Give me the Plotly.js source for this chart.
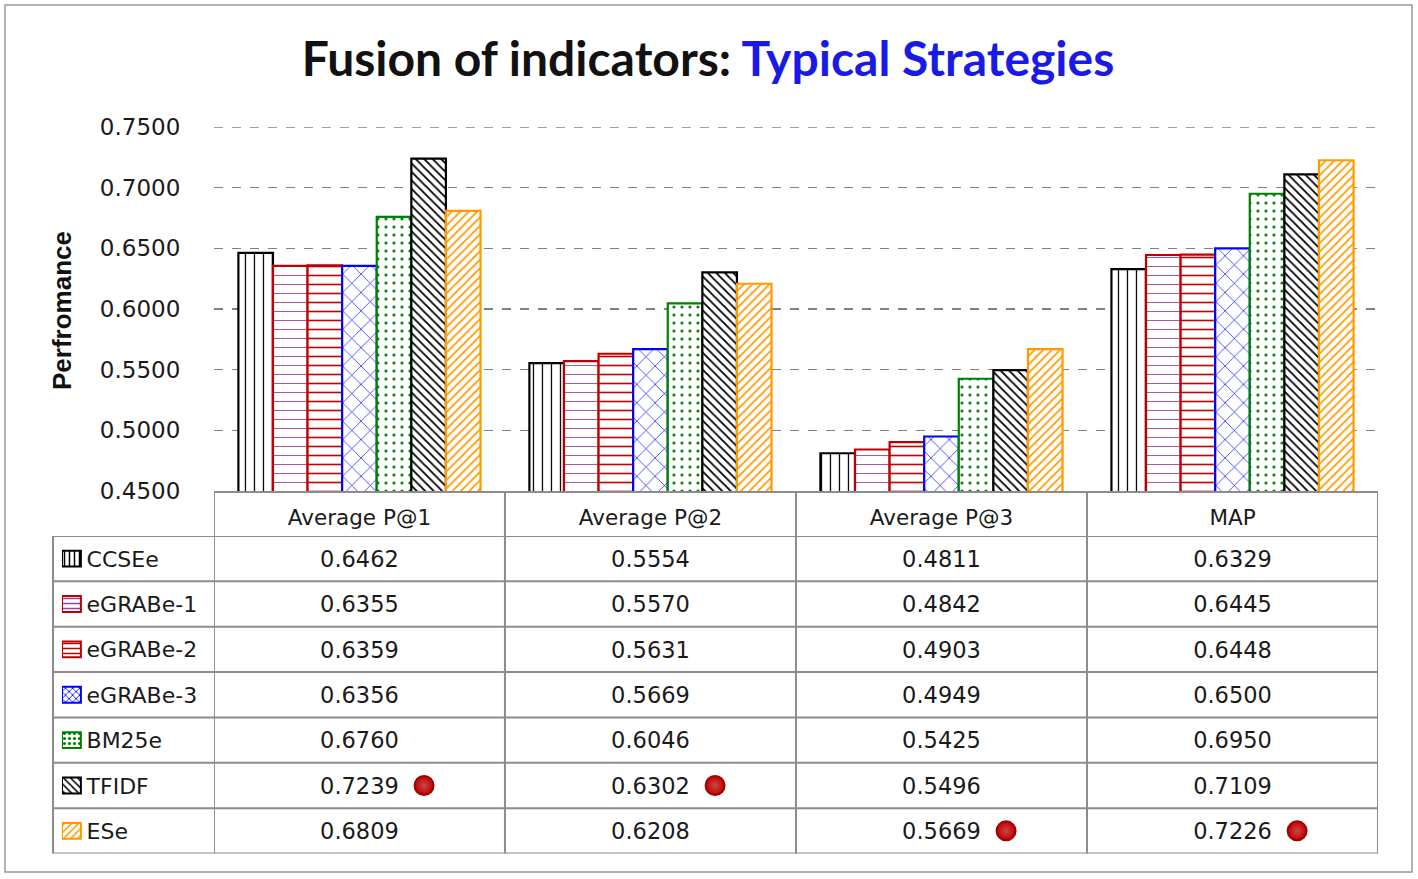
<!DOCTYPE html>
<html>
<head>
<meta charset="utf-8">
<script src="https://cdn.plot.ly/plotly-3.0.1.min.js"></script>
<style>
  body { margin: 0; background: #fff; }
  #chart { width: 1418px; height: 879px; }
</style>
</head>
<body>
<div id="chart"></div>
<script>
// data
let categories = ["Average P@1", "Average P@2", "Average P@3", "MAP"];
let seriesNames = ["CCSEe", "eGRABe-1", "eGRABe-2", "eGRABe-3", "BM25e", "TFIDF", "ESe"];
let ccsee = [0.6462, 0.5554, 0.4811, 0.6329];
let egrabe1 = [0.6355, 0.5570, 0.4842, 0.6445];
let egrabe2 = [0.6359, 0.5631, 0.4903, 0.6448];
let egrabe3 = [0.6356, 0.5669, 0.4949, 0.6500];
let bm25e = [0.6760, 0.6046, 0.5425, 0.6950];
let tfidf = [0.7239, 0.6302, 0.5496, 0.7109];
let ese = [0.6809, 0.6208, 0.5669, 0.7226];
let yTicks = [0.45, 0.50, 0.55, 0.60, 0.65, 0.70, 0.75];

let allSeries = [ccsee, egrabe1, egrabe2, egrabe3, bm25e, tfidf, ese];

// look of each series (border colour, pattern)
let lineColors = ["#000000", "#c00000", "#c00000", "#0000ff", "#008000", "#000000", "#ff9900"];
let patColors = ["#000000", "#a040a0", "#c00000", "#0000ff", "#008000", "#000000", "#ff9900"];
let patShapes = ["|", "-", "-", "x", ".", "\\", "/"];
let patSizes = [9, 9, 9, 13, 8, 6, 6];
let patSolid = [0.14, 0.1, 0.18, 0.1, 0.12, 0.3, 0.3];

let catIdx = categories.map((c, i) => i);
let font = "DejaVu Sans, Verdana, sans-serif";

let data = [];

// bars
allSeries.forEach((vals, s) => {
    data.push({
        type: "bar",
        name: seriesNames[s],
        x: catIdx,
        y: vals,
        showlegend: false,
        hoverinfo: "y",
        marker: {
            color: "white",
            line: { color: lineColors[s], width: 2.2 },
            pattern: {
                shape: patShapes[s],
                fgcolor: patColors[s],
                bgcolor: "white",
                size: patSizes[s],
                solidity: patSolid[s],
                fillmode: "replace"
            }
        }
    });
});

// legend keys in the data table
data.push({
    type: "bar",
    orientation: "h",
    x: seriesNames.map(() => 1),
    y: seriesNames,
    xaxis: "x2",
    yaxis: "y2",
    width: 0.35,
    offset: -0.175,
    showlegend: false,
    hoverinfo: "skip",
    marker: {
        color: "white",
        line: { color: lineColors, width: 2 },
        pattern: {
            shape: patShapes,
            fgcolor: patColors,
            bgcolor: "white",
            size: 5,
            solidity: 0.3,
            fillmode: "replace"
        }
    }
});

// row labels (text sits on y3, a couple of px lower than the grid axis y2)
data.push({
    type: "scatter",
    mode: "text",
    x: seriesNames.map(() => 1.3),
    y: seriesNames,
    text: seriesNames,
    textposition: "middle right",
    textfont: { family: font, size: 22, color: "#1a1a1a" },
    xaxis: "x2",
    yaxis: "y3",
    cliponaxis: false,
    showlegend: false,
    hoverinfo: "skip"
});

// table cells
let cellX = [], cellY = [], cellText = [];
allSeries.forEach((vals, s) => {
    vals.forEach((v, c) => {
        cellX.push(c);
        cellY.push(seriesNames[s]);
        cellText.push(v.toFixed(4));
    });
});
data.push({
    type: "scatter",
    mode: "text",
    x: cellX,
    y: cellY,
    text: cellText,
    textposition: "middle center",
    textfont: { family: font, size: 22.5, color: "#1a1a1a" },
    xaxis: "x",
    yaxis: "y3",
    cliponaxis: false,
    showlegend: false,
    hoverinfo: "skip"
});

// red dot next to the best value of every column
let bestX = [], bestY = [];
categories.forEach((c, i) => {
    let best = 0;
    allSeries.forEach((vals, s) => { if (vals[i] > allSeries[best][i]) best = s; });
    bestX.push(i + 0.222);
    bestY.push(seriesNames[best]);
});
data.push({
    type: "scatter",
    mode: "markers",
    x: bestX,
    y: bestY,
    xaxis: "x",
    yaxis: "y2",
    cliponaxis: false,
    showlegend: false,
    hoverinfo: "skip",
    marker: {
        size: 19,
        color: "#c00000",
        line: { color: "#a00000", width: 2 },
        gradient: { type: "radial", color: "#c84848" }
    }
});

// table grid
let gridColor = "#8c8c8c";
let tableTop = 0.43945, tableBottom = 0.02134, tableLeft = 0.03412, tableRight = 0.97584, rowsTop = 0.38754;
let shapes = [];
for (let k = -0.5; k <= 3.5; k += 1) {
    shapes.push({ type: "line", xref: "x", yref: "paper", x0: k, x1: k, y0: tableBottom, y1: tableTop,
        line: { color: gridColor, width: 2 } });
}
shapes.push({ type: "line", xref: "paper", yref: "paper", x0: tableLeft, x1: tableLeft, y0: tableBottom, y1: rowsTop,
    line: { color: gridColor, width: 2 } });
for (let r = 0; r <= seriesNames.length; r++) {
    shapes.push({ type: "line", xref: "paper", yref: "y2", x0: tableLeft, x1: tableRight, y0: r - 0.5, y1: r - 0.5,
        line: { color: gridColor, width: 2 } });
}
// top gridline at 0.75 (plotly skips the one on the plot edge)
shapes.push({ type: "line", xref: "x", yref: "y", x0: -0.5, x1: 3.5, y0: yTicks[yTicks.length - 1], y1: yTicks[yTicks.length - 1],
    line: { color: "#808080", width: 1.5, dash: "dash" } });
// outer chart border
shapes.push({ type: "rect", xref: "paper", yref: "paper", x0: 0, x1: 1, y0: 0, y1: 1,
    line: { color: "#9a9a9a", width: 1.5 } });

let layout = {
    width: 1418,
    height: 879,
    margin: { l: 5, r: 6, t: 5, b: 7 },
    paper_bgcolor: "white",
    plot_bgcolor: "rgba(0,0,0,0)",
    barmode: "group",
    bargap: 0.168,
    bargroupgap: 0,
    title: {
        text: "<b>Fusion of indicators: <span style='color:#1a1ae6'>Typical Strategies</span></b>",
        font: { family: "Lato, Open Sans, sans-serif", size: 48, color: "#111" },
        x: 0.4993,
        xanchor: "center",
        y: 0.933,
        yanchor: "middle"
    },
    xaxis: {
        type: "linear",
        domain: [0.1485, 0.97584],
        range: [-0.5, 3.5],
        tickvals: catIdx,
        ticktext: categories,
        tickfont: { family: font, size: 21.5, color: "#1a1a1a" },
        ticks: "outside",
        ticklen: 6,
        tickcolor: "rgba(0,0,0,0)",
        showgrid: false,
        zeroline: false,
        showline: true,
        linecolor: gridColor,
        linewidth: 2,
        anchor: "y",
        fixedrange: true
    },
    yaxis: {
        domain: [0.43945, 0.8593],
        range: [0.45, 0.75],
        tickvals: yTicks,
        tickformat: ".4f",
        tickfont: { family: font, size: 23, color: "#1a1a1a" },
        ticks: "outside",
        ticklen: 28,
        tickcolor: "rgba(0,0,0,0)",
        showgrid: true,
        gridcolor: "#808080",
        gridwidth: 1.5,
        griddash: "dash",
        zeroline: false,
        showline: false,
        anchor: "x",
        fixedrange: true
    },
    xaxis2: {
        domain: [0.0405, 0.0581],
        range: [0, 1.31],
        anchor: "y2",
        visible: false,
        fixedrange: true
    },
    yaxis2: {
        domain: [tableBottom, rowsTop],
        type: "category",
        categoryarray: seriesNames,
        range: [6.5, -0.5],
        anchor: "x2",
        visible: false,
        fixedrange: true
    },
    yaxis3: {
        domain: [tableBottom - 0.003, rowsTop - 0.003],
        type: "category",
        categoryarray: seriesNames,
        range: [6.5, -0.5],
        anchor: "x2",
        visible: false,
        fixedrange: true
    },
    shapes: shapes,
    annotations: [
        {
            text: "<b>Perfromance</b>",
            xref: "paper",
            yref: "paper",
            x: 0.0405,
            xanchor: "center",
            y: 0.6482,
            yanchor: "middle",
            textangle: -90,
            showarrow: false,
            font: { family: "Liberation Sans Narrow, Liberation Sans, Arial, sans-serif", size: 26, color: "#111" }
        }
    ]
};

Plotly.newPlot("chart", data, layout, { displayModeBar: false, staticPlot: true });
</script>
</body>
</html>
